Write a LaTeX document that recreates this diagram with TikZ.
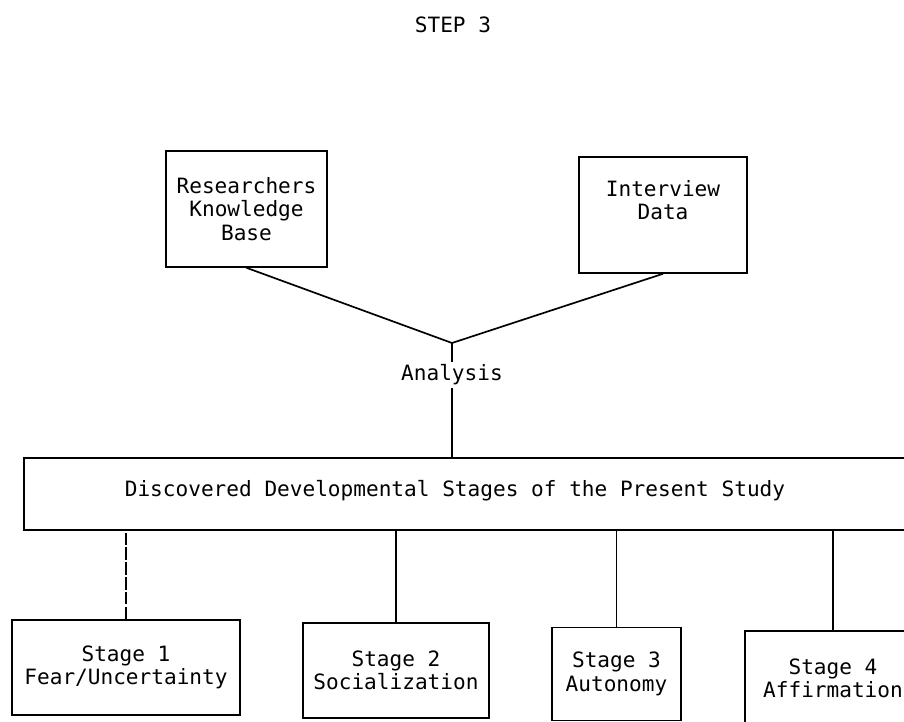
\documentclass[tikz,border=0pt]{standalone}
\usepackage{fontspec}
\setmonofont{DejaVu Sans Mono}
\usepackage{tikz}

\begin{document}
\begin{tikzpicture}[x=0.025cm, y=-0.025cm,
  every node/.style={font=\ttfamily\fontsize{15}{16.7}\selectfont},
  box/.style={draw, line width=1.1pt, align=center, inner sep=0pt},
  link/.style={line width=1.2pt}]

\useasboundingbox (0,0) rectangle (904,722);

%\draw[help lines, step=50] (0,0) grid (904,722);

\node (title) at (453,25) {STEP 3};

% sources
\node [box, minimum width=4.025cm, minimum height=2.9cm] (rkb) at (246.5,209) {Researchers\\Knowledge\\Base};
\node [box, minimum width=4.2cm, minimum height=2.9cm] (idata) at (663,215) {Interview\\Data\\\strut};

\coordinate (join) at (452,343);
\node [inner sep=2pt] (analysis) at (452,375) {Analysis};
\draw [link] (rkb.south) -- (join) -- (idata.south);
\draw [link] (join) -- (analysis.north);

% the stages
\node [box, minimum width=22.65cm, minimum height=1.8cm] (stages) at (477,494) {};
\node (stagetext) at (455,491) {Discovered Developmental Stages of the Present Study};
\draw [link] (analysis.south) -- (stages.north -| analysis.south);

\node [box, minimum width=5.7cm, minimum height=2.375cm] (s1) at (126,667.5) {Stage 1\\Fear/Uncertainty};
\node [box, minimum width=4.65cm, minimum height=2.375cm] (s2) at (396,670.5) {Stage 2\\Socialization};
\node [box, minimum width=3.225cm, minimum height=2.33cm] (s3) at (616.5,674) {Stage 3\\Autonomy};
\node [box, minimum width=4.4cm, minimum height=2.375cm] (s4) at (833,678.5) {Stage 4\\Affirmation};

\draw [link, dash pattern=on 9pt off 1.5pt] (s1.north) -- (s1.north |- stages.south);
\foreach \s in {s2,s3,s4}
  \draw [link] (\s.north) -- (\s.north |- stages.south);

\end{tikzpicture}
\end{document}
